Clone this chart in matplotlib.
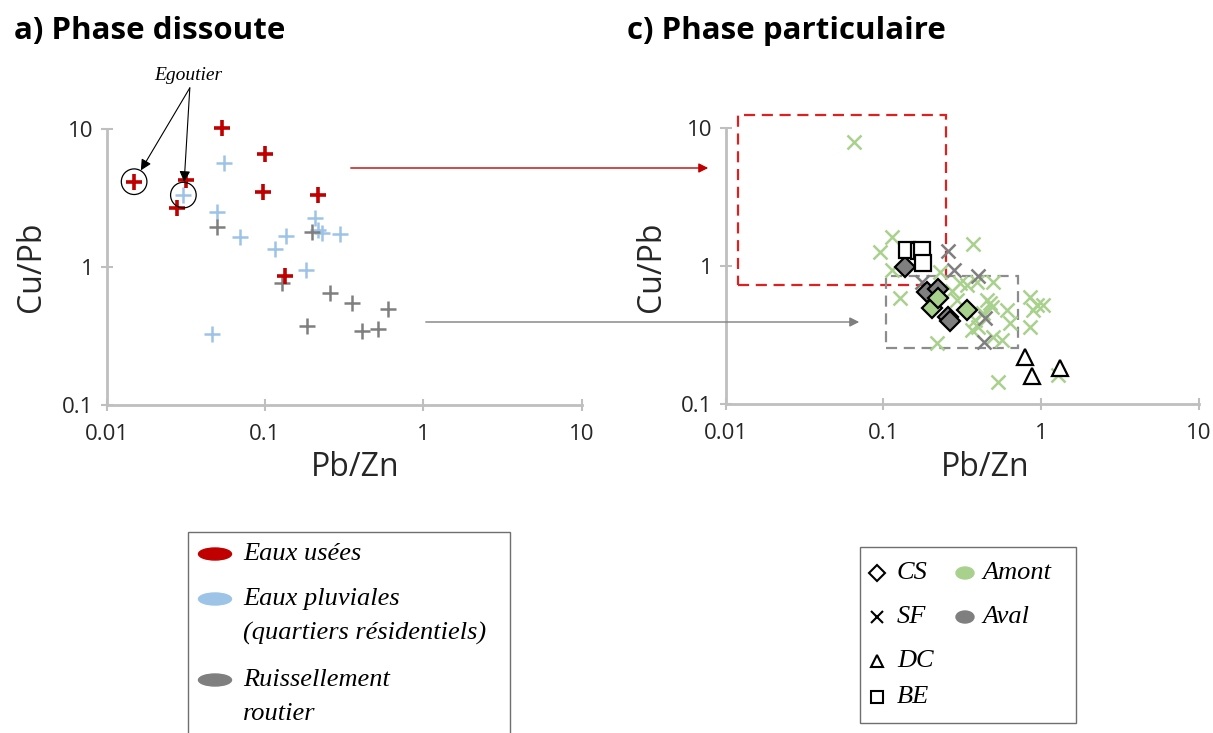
import numpy as np
import matplotlib
matplotlib.use('Agg')
import matplotlib.pyplot as plt
from matplotlib.patches import Rectangle, Ellipse, FancyArrowPatch
from matplotlib.lines import Line2D
from matplotlib.ticker import NullLocator

# ---- a) phase dissoute : Pb/Zn (x), Cu/Pb (y)
eu_x = [0.0149, 0.0317, 0.0279, 0.0533, 0.100, 0.0976, 0.215, 0.134]          # eaux usees
eu_y = [4.15, 4.26, 2.66, 10.1, 6.56, 3.51, 3.32, 0.865]
ep_x = [0.0551, 0.0305, 0.0496, 0.0695, 0.1157, 0.135, 0.207, 0.216, 0.228,   # eaux pluviales
        0.298, 0.182, 0.0461]
ep_y = [5.64, 3.32, 2.52, 1.66, 1.35, 1.68, 2.25, 1.85, 1.75, 1.73, 0.95, 0.327]
rr_x = [0.0496, 0.199, 0.1275, 0.258, 0.353, 0.601, 0.183, 0.408, 0.520]       # ruissellement routier
rr_y = [1.96, 1.80, 0.769, 0.652, 0.551, 0.497, 0.373, 0.345, 0.356]

# ---- c) phase particulaire
be_x = [0.140, 0.168, 0.175, 0.179]
be_y = [1.31, 1.28, 1.31, 1.05]
cs_aval_x = [0.137, 0.188, 0.222, 0.258, 0.264]
cs_aval_y = [0.99, 0.652, 0.681, 0.425, 0.402]
cs_amont_x = [0.202, 0.222, 0.337]
cs_amont_y = [0.500, 0.583, 0.480]
dc_x = [0.789, 0.869, 1.314]
dc_y = [0.220, 0.160, 0.182]
sf_aval_x = [0.258, 0.281, 0.399, 0.175, 0.440, 0.433]
sf_aval_y = [1.28, 0.935, 0.848, 0.766, 0.418, 0.282]
sf_amont_x = [0.065, 0.113, 0.095, 0.371, 0.127, 0.113, 0.228, 0.337, 0.390, 0.497,
              0.291, 0.451, 0.473, 0.604, 0.848, 0.935, 1.03, 0.890, 0.848, 0.634,
              0.362, 0.399, 0.497, 0.561, 0.219, 0.534, 1.28, 0.305, 0.380, 0.430,
              0.485, 0.27]
sf_amont_y = [7.96, 1.61, 1.27, 1.44, 0.583, 0.935, 0.910, 0.728, 0.769, 0.769,
              0.568, 0.568, 0.537, 0.480, 0.600, 0.521, 0.521, 0.480, 0.363, 0.388,
              0.344, 0.363, 0.308, 0.291, 0.275, 0.145, 0.162, 0.75, 0.406, 0.454,
              0.507, 0.66]

# zones (dashed boxes)
red_zone = (0.012, 0.249, 0.728, 12.4)
grey_zone = (0.1037, 0.708, 0.256, 0.847)

RED = '#C00000'
BLUE = '#9DC3E6'
GREY = '#7F7F7F'
GREEN = '#A9D18E'
AXC = '#BFBFBF'
SANS = 'Open Sans'
SERIF = 'Liberation Serif'

W, H = 1213, 733
fig = plt.figure(figsize=(W / 100, H / 100), dpi=100)


def fx(px):
    return px / W


def fy(py):
    return 1 - py / H


def style(ax):
    ax.set_xscale('log')
    ax.set_yscale('log')
    ax.set_xlim(0.01, 10)
    ax.set_ylim(0.1, 10)
    ax.set_xticks([0.01, 0.1, 1, 10])
    ax.set_xticklabels(['0.01', '0.1', '1', '10'])
    ax.set_yticks([0.1, 1, 10])
    ax.set_yticklabels(['0.1', '1', '10'])
    ax.xaxis.set_minor_locator(NullLocator())
    ax.yaxis.set_minor_locator(NullLocator())
    for s in ['top', 'right']:
        ax.spines[s].set_visible(False)
    for s in ['left', 'bottom']:
        ax.spines[s].set_color(AXC)
        ax.spines[s].set_linewidth(2)
    ax.tick_params(direction='inout', length=9, width=1.5, color=AXC,
                   labelsize=16, labelcolor='#262626', pad=5)
    ax.tick_params(axis='x', pad=9)
    for lab in ax.get_xticklabels() + ax.get_yticklabels():
        lab.set_family(SANS)
    ax.patch.set_alpha(0)


axL = fig.add_axes([fx(106.7), fy(405), 475 / W, 276 / H])
axR = fig.add_axes([fx(725.7), fy(404), 473.3 / W, 276 / H])
style(axL)
style(axR)

# ---- left panel
axL.plot(ep_x, ep_y, '+', color=BLUE, ms=12, mew=1.8, clip_on=False)
axL.plot(rr_x, rr_y, '+', color=GREY, ms=12, mew=1.8, clip_on=False)
axL.plot(eu_x, eu_y, '+', color=RED, ms=12, mew=2.6, clip_on=False)

# egoutier samples circled
ego_x = [eu_x[0], ep_x[1]]
ego_y = [eu_y[0], ep_y[1]]
axL.scatter(ego_x, ego_y, s=340, facecolors='none', edgecolors='black', linewidths=0.9, zorder=3)
for x, y in zip(ego_x, ego_y):
    axL.annotate('', xy=(x, y), xytext=(0.175, 1.149), textcoords='axes fraction',
                 arrowprops=dict(arrowstyle='-|>', color='black', lw=0.8,
                                 shrinkA=0, shrinkB=9.5, mutation_scale=16),
                 annotation_clip=False)
axL.text(0.171, 1.195, 'Egoutier', transform=axL.transAxes, ha='center', va='center',
         family=SERIF, style='italic', fontsize=14)

# ---- right panel
x0, x1, y0, y1 = red_zone
axR.add_patch(Rectangle((x0, y0), x1 - x0, y1 - y0, fill=False, ec='#E02020', lw=1.6,
                        ls=(0, (5, 3)), clip_on=False, zorder=1))
x0, x1, y0, y1 = grey_zone
axR.add_patch(Rectangle((x0, y0), x1 - x0, y1 - y0, fill=False, ec='#8C8C8C', lw=1.6,
                        ls=(0, (5, 3)), clip_on=False, zorder=1))

axR.plot(sf_amont_x, sf_amont_y, 'x', color=GREEN, ms=10, mew=1.8, zorder=2)
axR.plot(sf_aval_x, sf_aval_y, 'x', color=GREY, ms=10, mew=1.8, zorder=2)
axR.plot(cs_aval_x, cs_aval_y, 'D', mfc=GREY, mec='black', ms=10, mew=1.6, ls='none', zorder=3)
axR.plot(cs_amont_x, cs_amont_y, 'D', mfc=GREEN, mec='black', ms=10, mew=1.6, ls='none', zorder=3)
axR.plot(be_x, be_y, 's', mfc='white', mec='black', ms=11, mew=1.6, ls='none', zorder=3)
axR.plot(dc_x, dc_y, '^', mfc='white', mec='black', ms=12, mew=1.6, ls='none', zorder=3)

# ---- axis labels and titles
for cx in (32, 652):
    fig.text(fx(cx), fy(267), 'Cu/Pb', rotation=90, ha='center', va='center',
             family=SANS, fontsize=23, color='#262626')
for cx in (355, 985):
    fig.text(fx(cx), fy(468), 'Pb/Zn', ha='center', va='center',
             family=SANS, fontsize=23, color='#262626')
fig.text(fx(14), fy(31), 'a) Phase dissoute', ha='left', va='center',
         family=SANS, fontweight='bold', fontsize=22.5)
fig.text(fx(627), fy(31), 'c) Phase particulaire', ha='left', va='center',
         family=SANS, fontweight='bold', fontsize=22.5)

# ---- arrows linking the panels
fig.add_artist(FancyArrowPatch((fx(348), fy(168)), (fx(711), fy(168)), transform=fig.transFigure,
                               arrowstyle='-|>', mutation_scale=14, color=RED, lw=1))
fig.add_artist(FancyArrowPatch((fx(423), fy(322)), (fx(862), fy(322)), transform=fig.transFigure,
                               arrowstyle='-|>', mutation_scale=14, color=GREY, lw=1))

# ---- legend a)
fig.add_artist(Rectangle((fx(188), fy(745)), 322 / W, 213 / H, fill=False, ec='#6F6F6F', lw=1,
                         transform=fig.transFigure, clip_on=False))
leg_a = [(554, RED, ['Eaux usées']),
         (599, BLUE, ['Eaux pluviales', '(quartiers résidentiels)']),
         (680, GREY, ['Ruissellement', 'routier'])]
for yy, col, lines in leg_a:
    fig.add_artist(Ellipse((fx(215), fy(yy)), 33 / W, 12 / H, color=col, transform=fig.transFigure))
    for k, t in enumerate(lines):
        fig.text(fx(243), fy(yy + 34 * k), t, ha='left', va='center', family=SERIF,
                 style='italic', fontsize=19)

# ---- legend c)
fig.add_artist(Rectangle((fx(860), fy(723)), 216 / W, 176 / H, fill=False, ec='#6F6F6F', lw=1,
                         transform=fig.transFigure))
leg_c = [(573, 'D', 'CS'), (617, 'x', 'SF'), (661, '^', 'DC'), (697, 's', 'BE')]
for yy, mk, t in leg_c:
    fig.add_artist(Line2D([fx(877)], [fy(yy)], marker=mk, ms=8, mfc='white', mec='black',
                          mew=1.5, ls='none', transform=fig.transFigure))
    fig.text(fx(897), fy(yy), t, ha='left', va='center', family=SERIF, style='italic', fontsize=19)
for yy, col, t in [(573, GREEN, 'Amont'), (617, GREY, 'Aval')]:
    fig.add_artist(Ellipse((fx(965), fy(yy)), 18 / W, 12 / H, color=col, transform=fig.transFigure))
    fig.text(fx(982), fy(yy), t, ha='left', va='center', family=SERIF, style='italic', fontsize=19)

fig.savefig('out.png', dpi=100)
